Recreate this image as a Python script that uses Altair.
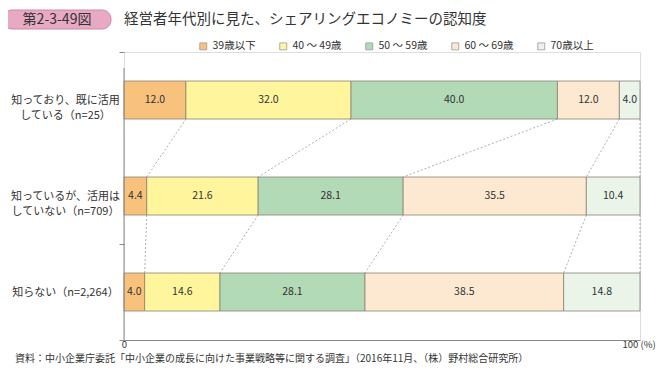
import altair as alt
import pandas as pd

rows = ["知っており、既に活用\nしている（n=25）",
        "知っているが、活用は\nしていない（n=709）",
        "知らない（n=2,264）"]
ages = ["39歳以下", "40 ～ 49歳", "50 ～ 59歳", "60 ～ 69歳", "70歳以上"]
vals_used = [12.0, 32.0, 40.0, 12.0, 4.0]
vals_known = [4.4, 21.6, 28.1, 35.5, 10.4]
vals_unknown = [4.0, 14.6, 28.1, 38.5, 14.8]
colors = ["#F9C27C", "#FFF59D", "#B3DAB7", "#FDE9D1", "#EAF4E9"]
fig_label = ["第2-3-49図"]
title_text = ["経営者年代別に見た、シェアリングエコノミーの認知度"]
source_text = ["資料：中小企業庁委託「中小企業の成長に向けた事業戦略等に関する調査」（2016年11月、（株）野村総合研究所）"]

FONT = "Noto Sans CJK JP"
series = [vals_used, vals_known, vals_unknown]

bar_recs = []
cums = []
for r, vals in zip(rows, series):
    c = 0.0
    cum = [0.0]
    for a, v in zip(ages, vals):
        bar_recs.append({"row": r, "age": a, "start": c, "end": c + v,
                         "mid": c + v / 2, "v": v})
        c += v
        cum.append(c)
    cums.append(cum)
bars_df = pd.DataFrame(bar_recs)

con_recs = []
for i in range(len(rows) - 1):
    for k in range(1, len(ages) + 1):
        con_recs.append({"row": rows[i], "row2": rows[i + 1],
                         "x1": cums[i][k], "x2": cums[i + 1][k]})
con_df = pd.DataFrame(con_recs)

yscale = alt.Scale(domain=rows, paddingInner=0, paddingOuter=0)
xscale = alt.Scale(domain=[0, 100], nice=False)

base = alt.Chart(bars_df)

bars = base.mark_bar(size=38, stroke="#8C8272", strokeWidth=0.8).encode(
    x=alt.X("start:Q", scale=xscale,
            axis=alt.Axis(title=None, values=[0, 100], grid=False, ticks=False,
                          labelExpr="datum.value == 100 ? '100 (%)' : datum.label",
                          labelAlign={"condition": {"test": "datum.value == 100", "value": "left"}, "value": "center"},
                          labelOffset={"condition": {"test": "datum.value == 100", "value": -18}, "value": 0},
                          labelPadding=-1, labelFontSize=9.5, labelFont=FONT,
                          labelColor="#333", domainColor="#888")),
    x2="end:Q",
    y=alt.Y("row:N", scale=yscale,
            axis=alt.Axis(title=None, tickBand="extent", tickSize=5, tickColor="#888",
                          tickOpacity={"condition": {"test": "isString(datum.value) && indexof(datum.value, 'n=25') >= 0", "value": 0}, "value": 1},
                          domain=False, labelAlign="center", labelPadding=54,
                          labelExpr="split(datum.label, '\\n')", labelLineHeight=15,
                          labelFontSize=11, labelFont=FONT, labelColor="#333",
                          labelLimit=200)),
    color=alt.Color("age:N", scale=alt.Scale(domain=ages, range=colors),
                    legend=alt.Legend(title=None, orient="none", direction="horizontal",
                                      legendX=74, legendY=-11, symbolType="square",
                                      symbolSize=49, symbolStrokeColor="#999",
                                      symbolStrokeWidth=0.8, labelFontSize=10.5,
                                      labelFont=FONT, labelColor="#333",
                                      columnPadding=22, symbolOpacity=1,
                                      labelOffset=4)),
)

labels = base.mark_text(fontSize=10.5, font=FONT, color="#333").encode(
    x=alt.X("mid:Q", scale=xscale),
    y=alt.Y("row:N", scale=yscale),
    text=alt.Text("v:Q", format=".1f"),
)

connectors = alt.Chart(con_df).mark_rule(
    yOffset=19, y2Offset=-19, strokeDash=[2, 2], color="#999", strokeWidth=0.8
).encode(
    x=alt.X("x1:Q", scale=xscale),
    x2="x2:Q",
    y=alt.Y("row:N", scale=yscale),
    y2="row2:N",
)

yline = alt.Chart(pd.DataFrame({"t": [0]})).mark_rule(color="#888", strokeWidth=1).encode(
    x=alt.value(0), y=alt.value(16), y2=alt.value(288))

badge = alt.Chart(pd.DataFrame({"t": fig_label})).mark_rect(
    fill="#E8A9C3", stroke="#CF86A6", strokeWidth=1, cornerRadius=9
).encode(x=alt.value(-121), x2=alt.value(-13), y=alt.value(-42), y2=alt.value(-23))

badge_text = alt.Chart(pd.DataFrame({"t": fig_label})).mark_text(
    font=FONT, fontSize=14, color="#333", align="center", baseline="middle"
).encode(text="t:N", x=alt.value(-67), y=alt.value(-32.5))

title = alt.Chart(pd.DataFrame({"t": title_text})).mark_text(
    font=FONT, fontSize=14.5, color="#333", align="left", baseline="middle"
).encode(text="t:N", x=alt.value(0), y=alt.value(-32.5))

source = alt.Chart(pd.DataFrame({"t": source_text})).mark_text(
    font=FONT, fontSize=10, color="#333", align="left", baseline="middle"
).encode(text="t:N", x=alt.value(-109), y=alt.value(307))

chart = alt.layer(connectors, bars, labels, yline, badge, badge_text, title, source).properties(
    width=516, height=288,
    autosize=alt.AutoSizeParams(type="none"),
    padding={"left": 116, "top": 44, "right": 20, "bottom": 24},
).configure_view(stroke=None).configure(background="white")

chart.save("out.html", embed_options={"renderer": "svg", "actions": False})
